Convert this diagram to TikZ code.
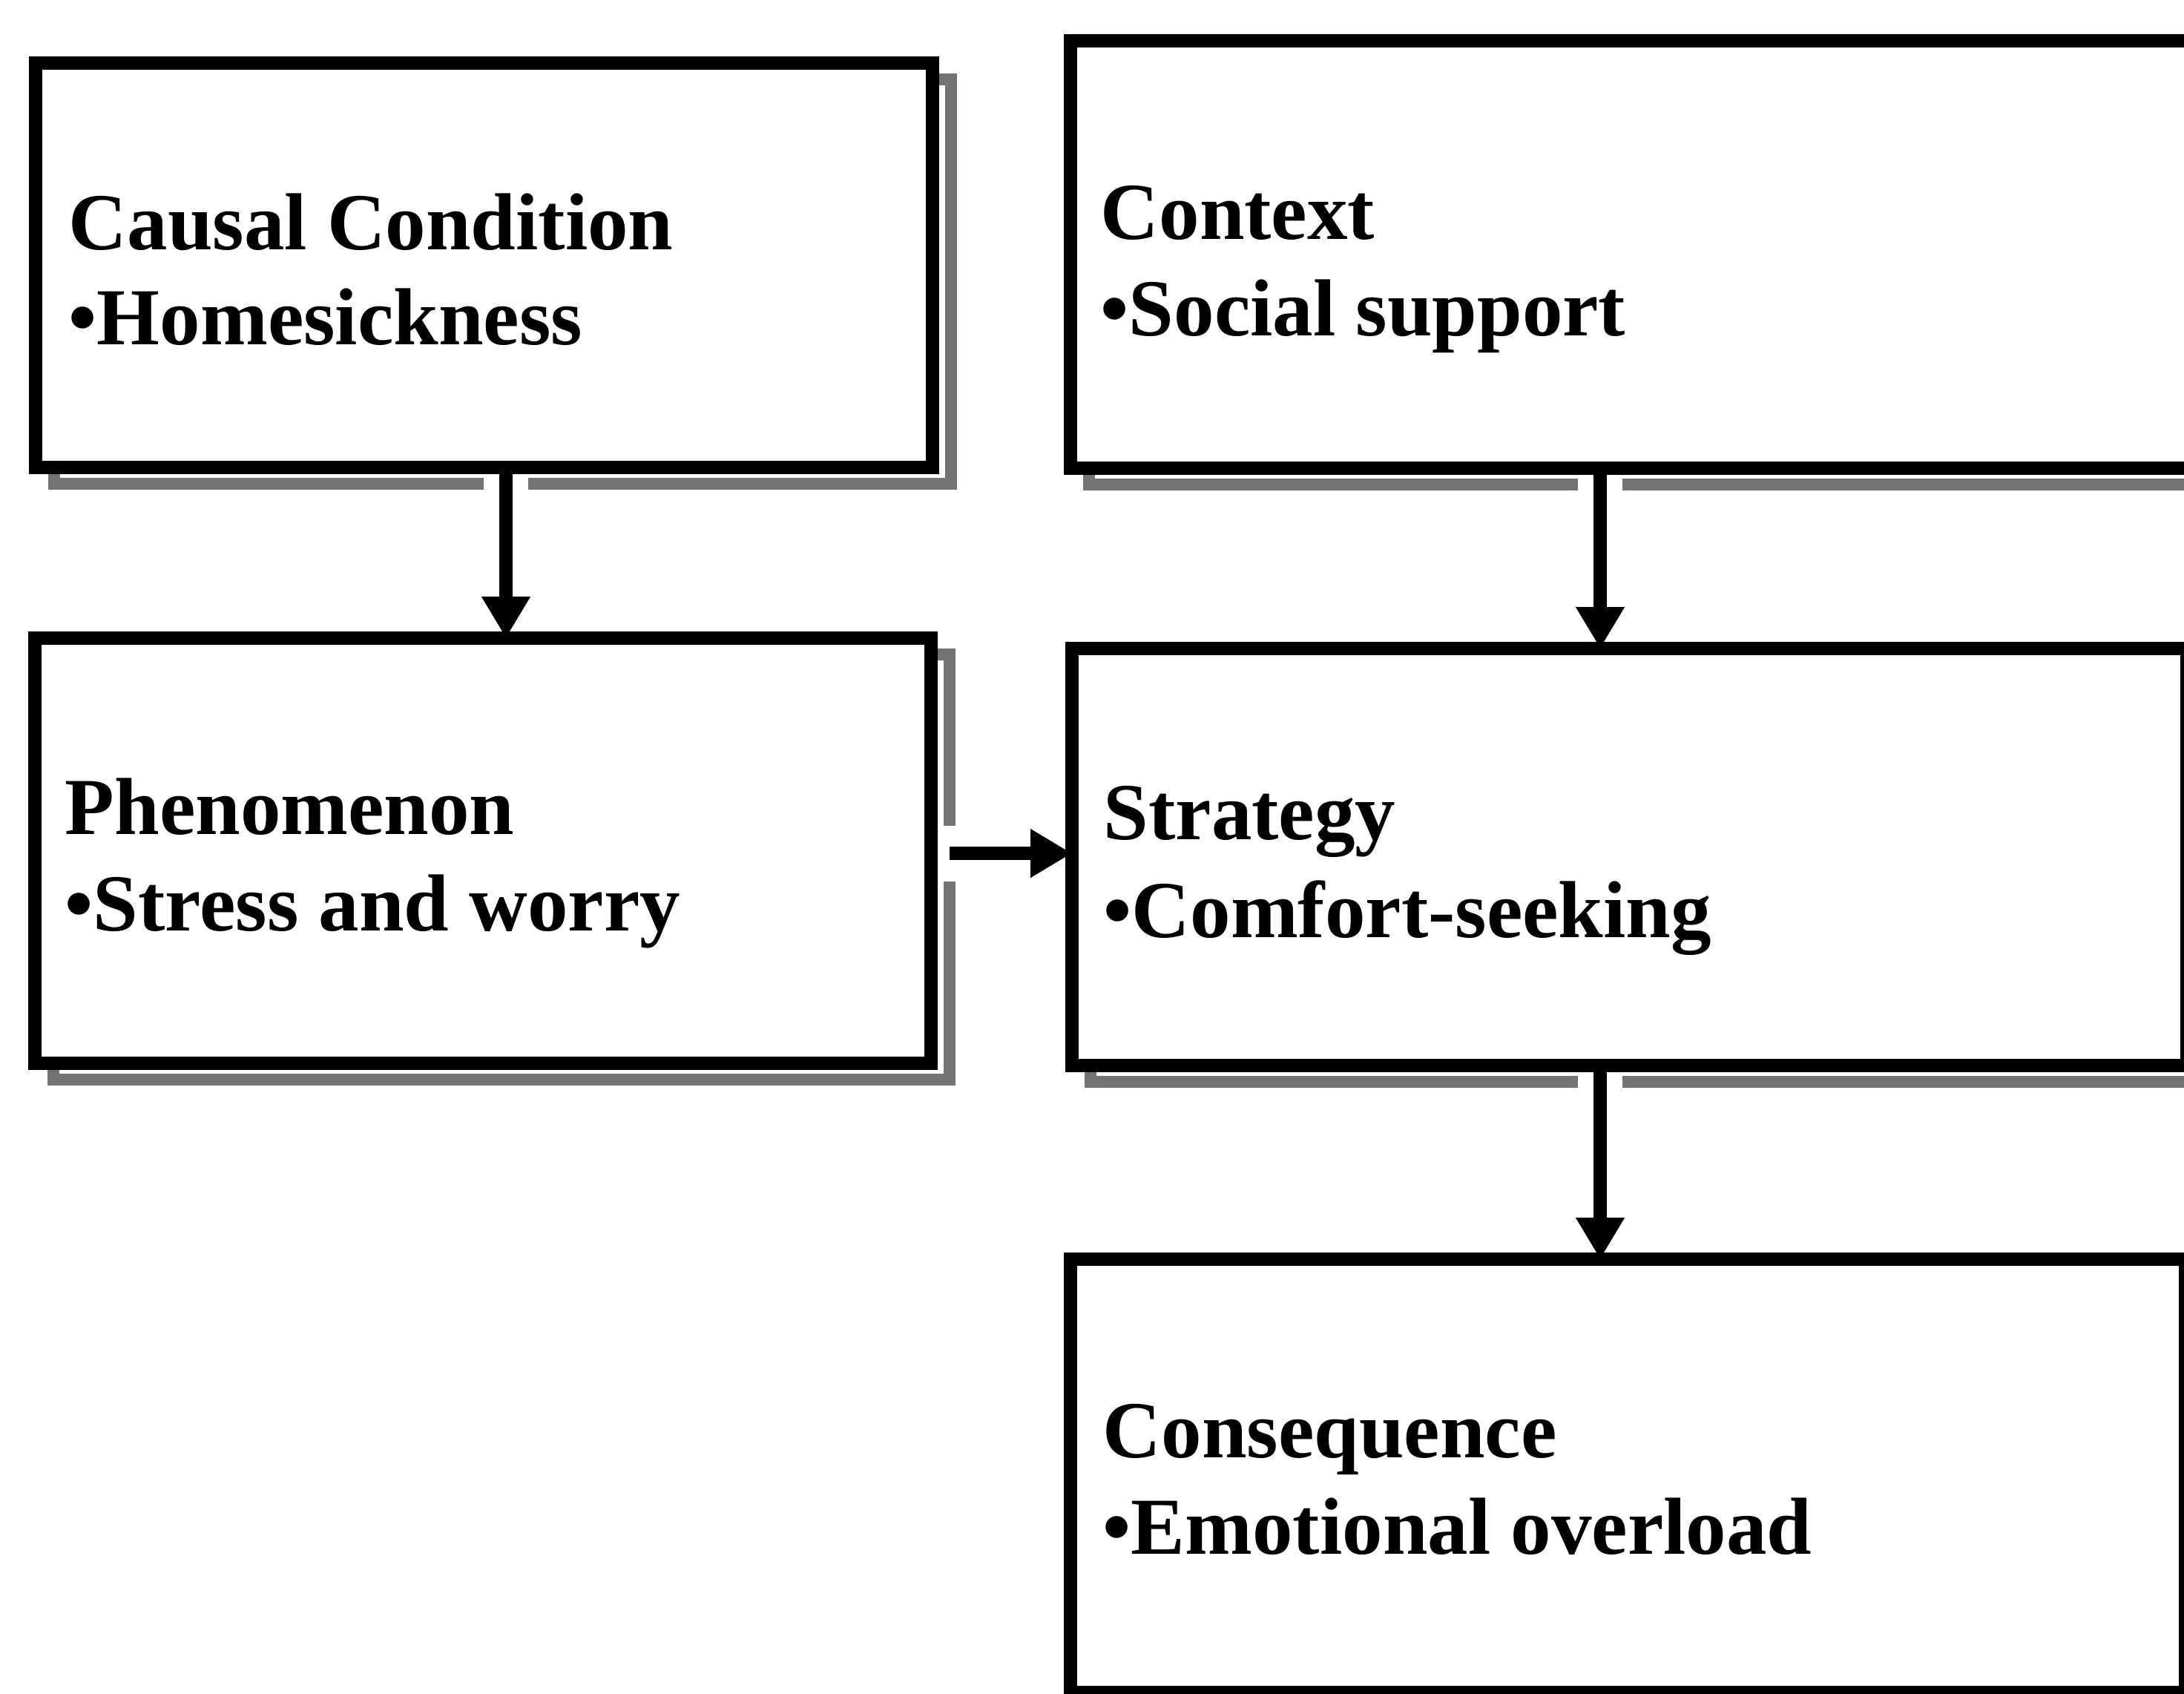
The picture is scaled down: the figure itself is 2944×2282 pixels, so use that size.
\documentclass[tikz,border=0pt]{standalone}
\usepackage{fontspec}
\setmainfont{Liberation Serif}
\usetikzlibrary{arrows.meta,fit,shadows}
\begin{document}
\begin{tikzpicture}[x=0.25pt,y=-0.25pt,
  box/.style={draw, line width=4.5pt, fill=white, inner sep=0pt, outer sep=0pt,
    general shadow={draw=black!55, fill=none, line width=4pt,
      shadow xshift=6.25pt, shadow yshift=-5.5pt}},
  lbl/.style={anchor=base west, inner sep=0pt,
    font=\fontsize{27.25}{32}\selectfont\bfseries},
  link/.style={line width=4.5pt, -{Triangle[length=14pt,width=15.5pt]}},
]
\useasboundingbox (0,0) rectangle (2944,2282);
\clip (0,0) rectangle (2944,2282);

% boxes
\node[box, fit={(48,85) (1257,630)}] (causal) {};
\node[box, fit={(47,860) (1255,1433)}] (phen) {};
\node[box, fit={(1443,55) (3030,631)}] (context) {};
\node[box, fit={(1445,874) (2948,1436)}] (strat) {};
\node[box, fit={(1443,1697) (2946,2281)}] (conseq) {};

% box texts
\node[lbl] (causalhead) at (92,336) {Causal Condition};
\node[lbl] (causalitem) at (92,464) {•Homesickness};
\node[lbl] (phenhead) at (87,1124) {Phenomenon};
\node[lbl] (phenitem) at (87,1254) {•Stress and worry};
\node[lbl] (contexthead) at (1483,322) {Context};
\node[lbl] (contextitem) at (1483,452) {•Social support};
\node[lbl] (strathead) at (1487,1131) {Strategy};
\node[lbl] (stratitem) at (1487,1263) {•Comfort-seeking};
\node[lbl] (conseqhead) at (1486,1964) {Consequence};
\node[lbl] (conseqitem) at (1486,2094) {•Emotional overload};

% connector positions
\coordinate (xa) at (682,0);
\coordinate (xb) at (2157,0);
\coordinate (yc) at (0,1150);

% connectors
\draw[link, preaction={draw=white, -, line width=15pt, shorten <=2.5pt, shorten >=20pt}]
  (causal.south -| xa) -- (phen.north -| xa);
\draw[link, preaction={draw=white, -, line width=15pt, shorten <=2.5pt, shorten >=20pt}]
  (context.south -| xb) -- (strat.north -| xb);
\draw[link, preaction={draw=white, -, line width=15pt, shorten <=2.5pt, shorten >=20pt}]
  (strat.south -| xb) -- (conseq.north -| xb);
\draw[link, shorten <=6.25pt,
  preaction={draw=white, -, line width=18.75pt, shorten <=4pt, shorten >=20pt}]
  (phen.east |- yc) -- (strat.west |- yc);
\end{tikzpicture}
\end{document}
